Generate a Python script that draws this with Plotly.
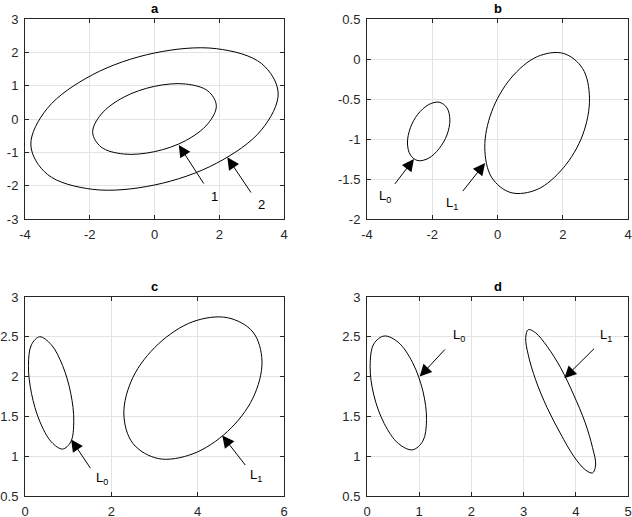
import plotly.graph_objects as go
from plotly.subplots import make_subplots

# Curve points (first point repeated to close the curve)
# Panel a: two nested orbits, labelled 1 (inner) and 2 (outer)
a1_x = [1.91, 1.65, 0.96, 0.0, -0.96, -1.65, -1.91, -1.65, -0.96, 0.0, 0.96, 1.65, 1.91]
a1_y = [0.40, 0.84, 1.05, 0.98, 0.65, 0.14, -0.40, -0.84, -1.05, -0.98, -0.65, -0.14, 0.40]
a2_x = [3.82, 3.31, 1.91, 0.0, -1.91, -3.31, -3.82, -3.31, -1.91, 0.0, 1.91, 3.31, 3.82]
a2_y = [0.78, 1.66, 2.11, 1.98, 1.33, 0.32, -0.78, -1.66, -2.11, -1.98, -1.33, -0.32, 0.78]

# Panel b: L0 and L1
b0_x = [-1.46, -1.55, -1.79, -2.11, -2.44, -2.67, -2.76, -2.67, -2.44, -2.11, -1.79, -1.55, -1.46]
b0_y = [-0.76, -0.61, -0.54, -0.57, -0.69, -0.86, -1.05, -1.20, -1.27, -1.24, -1.12, -0.95, -0.76]
b1_x = [2.82, 2.61, 2.02, 1.22, 0.41, -0.18, -0.39, -0.18, 0.41, 1.22, 2.02, 2.61, 2.82]
b1_y = [-0.49, -0.12, 0.07, 0.03, -0.24, -0.66, -1.11, -1.48, -1.67, -1.63, -1.36, -0.95, -0.49]

# Panel c: L0 and L1
c0_x = [1.13, 1.06, 0.87, 0.61, 0.34, 0.15, 0.08, 0.15, 0.34, 0.61, 0.87, 1.06, 1.13]
c0_y = [1.44, 1.79, 2.14, 2.40, 2.50, 2.40, 2.14, 1.79, 1.44, 1.18, 1.09, 1.18, 1.44]
c1_x = [5.49, 5.28, 4.69, 3.89, 3.09, 2.50, 2.29, 2.50, 3.09, 3.89, 4.69, 5.28, 5.49]
c1_y = [2.19, 2.56, 2.74, 2.69, 2.41, 1.99, 1.53, 1.16, 0.97, 1.03, 1.31, 1.73, 2.19]

# Panel d: L0 and L1
d0_x = [1.14, 1.07, 0.87, 0.60, 0.33, 0.13, 0.06, 0.13, 0.33, 0.60, 0.87, 1.07, 1.14]
d0_y = [1.46, 1.82, 2.18, 2.43, 2.51, 2.41, 2.13, 1.77, 1.41, 1.16, 1.08, 1.19, 1.46]
d1_x = [4.38, 4.32, 4.18, 3.96, 3.71, 3.45, 3.23, 3.09, 3.04, 3.09, 3.23, 3.45, 3.71,
        3.96, 4.18, 4.32, 4.38]
d1_y = [0.89, 1.11, 1.42, 1.77, 2.11, 2.38, 2.55, 2.59, 2.49, 2.27, 1.96, 1.61, 1.28,
        1.00, 0.83, 0.79, 0.89]

# Axis ticks
a_xticks = [-4, -2, 0, 2, 4]
a_yticks = [-3, -2, -1, 0, 1, 2, 3]
b_xticks = [-4, -2, 0, 2, 4]
b_yticks = [-2, -1.5, -1, -0.5, 0, 0.5]
c_xticks = [0, 2, 4, 6]
c_yticks = [0.5, 1, 1.5, 2, 2.5, 3]
d_xticks = [0, 1, 2, 3, 4, 5]
d_yticks = [0.5, 1, 1.5, 2, 2.5, 3]

panel_titles = ["a", "b", "c", "d"]

# Arrow labels: (text, head x, head y, tail x, tail y, text x, text y)
a_labels = [("1", 0.75, -0.78, 1.55, -1.98, 1.86, -2.33),
            ("2", 2.25, -1.15, 3.01, -2.25, 3.32, -2.56)]
b_labels = [("L<sub>0</sub>", -2.56, -1.25, -3.18, -1.58, -3.44, -1.72),
            ("L<sub>1</sub>", -0.38, -1.30, -1.10, -1.67, -1.40, -1.80)]
c_labels = [("L<sub>0</sub>", 1.07, 1.21, 1.54, 0.83, 1.79, 0.72),
            ("L<sub>1</sub>", 4.57, 1.26, 5.13, 0.87, 5.36, 0.76)]
d_labels = [("L<sub>0</sub>", 1.01, 2.00, 1.52, 2.36, 1.76, 2.52),
            ("L<sub>1</sub>", 3.78, 1.98, 4.38, 2.37, 4.58, 2.52)]

FONT = "Liberation Sans, Arial, sans-serif"
AX_COLOR = "#262626"
GRID_COLOR = "#e3e3e3"

W, H = 632, 517


def fmt(v):
    return "%g" % v


fig = make_subplots(rows=2, cols=2)

curves = [
    (1, 1, [(a1_x, a1_y), (a2_x, a2_y)]),
    (1, 2, [(b0_x, b0_y), (b1_x, b1_y)]),
    (2, 1, [(c0_x, c0_y), (c1_x, c1_y)]),
    (2, 2, [(d0_x, d0_y), (d1_x, d1_y)]),
]
for r, c, pairs in curves:
    for xs, ys in pairs:
        fig.add_trace(go.Scatter(
            x=xs, y=ys, mode="lines",
            line=dict(color="black", width=1, shape="spline"),
            hoverinfo="skip", showlegend=False), row=r, col=c)

# Pixel layout of each axes box (left, right, top, bottom)
boxes = [(25, 284, 19, 219), (367, 628, 19, 219), (25, 284, 297, 496), (367, 628, 297, 496)]
xticks_all = [a_xticks, b_xticks, c_xticks, d_xticks]
yticks_all = [a_yticks, b_yticks, c_yticks, d_yticks]
labels_all = [a_labels, b_labels, c_labels, d_labels]

annotations = []
for i, (l, rgt, t, b) in enumerate(boxes):
    n = "" if i == 0 else str(i + 1)
    xt = xticks_all[i]
    yt = yticks_all[i]
    common = dict(
        showline=True, linecolor=AX_COLOR, linewidth=1, mirror="ticks",
        ticks="inside", ticklen=4, tickcolor=AX_COLOR, tickwidth=1,
        showgrid=True, gridcolor=GRID_COLOR, gridwidth=1, zeroline=False,
        automargin=False, ticklabelstandoff=3,
        tickfont=dict(family=FONT, size=13, color=AX_COLOR))
    fig.layout["xaxis" + n].update(
        domain=[l / W, rgt / W], range=[xt[0], xt[-1]],
        tickvals=xt, ticktext=[fmt(v) for v in xt], **common)
    fig.layout["yaxis" + n].update(
        domain=[1 - b / H, 1 - t / H], range=[yt[0], yt[-1]],
        tickvals=yt, ticktext=[fmt(v) for v in yt], **common)

    annotations.append(dict(
        text="<b>" + panel_titles[i] + "</b>", xref="paper", yref="paper",
        x=(l + rgt) / 2 / W, y=1 - t / H, xanchor="center", yanchor="bottom",
        yshift=1, showarrow=False, font=dict(family=FONT, size=13, color="black")))

    for txt, hx, hy, tx, ty, lx, ly in labels_all[i]:
        annotations.append(dict(
            x=hx, y=hy, ax=tx, ay=ty, xref="x" + n, yref="y" + n,
            axref="x" + n, ayref="y" + n, text="", showarrow=True,
            arrowhead=2, arrowsize=2.4, arrowwidth=1, arrowcolor="black",
            standoff=0))
        annotations.append(dict(
            x=lx, y=ly, xref="x" + n, yref="y" + n, text=txt, showarrow=False,
            font=dict(family=FONT, size=13, color="black")))

fig.update_layout(
    width=W, height=H,
    margin=dict(l=0, r=0, t=0, b=0),
    paper_bgcolor="white", plot_bgcolor="white",
    annotations=annotations,
    showlegend=False)

# the page body has a default 8px margin; drop it so the figure fills the window
fig.write_html("out.html", config={"displayModeBar": False},
               post_script="document.body.style.margin='0';")
